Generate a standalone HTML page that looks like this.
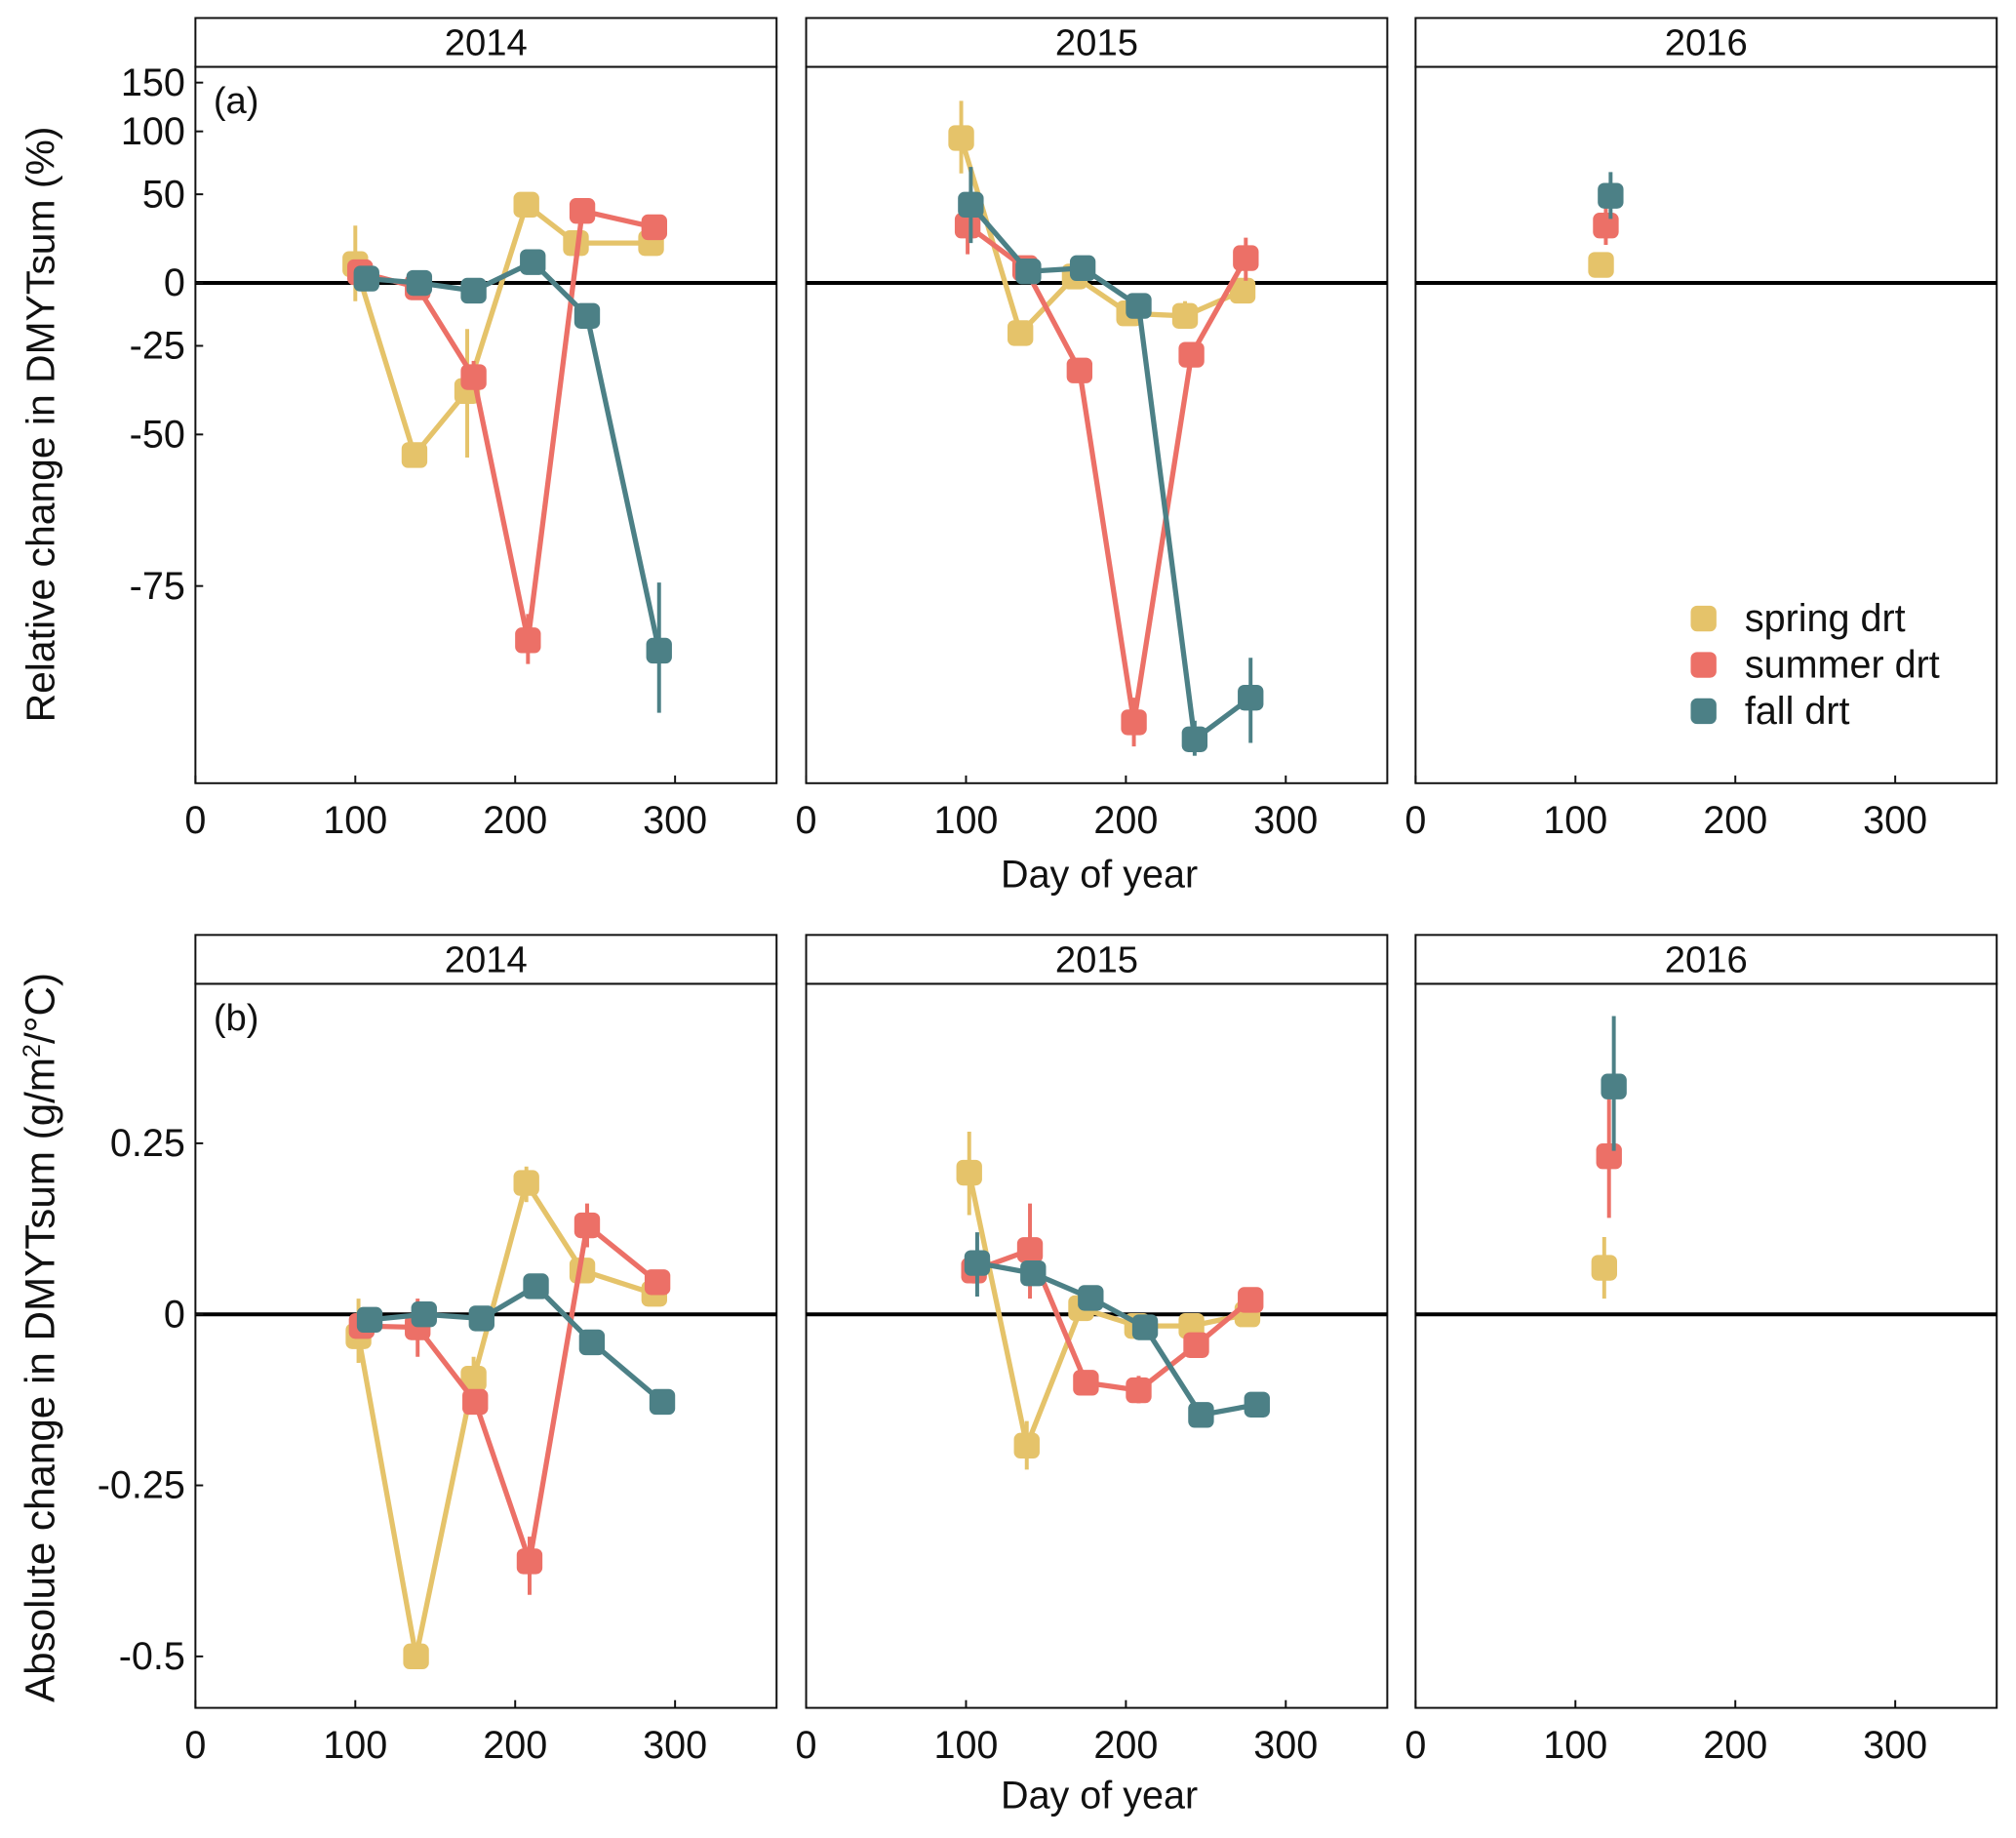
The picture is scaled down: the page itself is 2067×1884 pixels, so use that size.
<!DOCTYPE html>
<html><head><meta charset="utf-8"><style>
html,body{margin:0;padding:0;background:#fff}
svg{display:block}
text{font-family:"Liberation Sans",sans-serif;fill:#111}
</style></head><body>
<svg id="chart" width="2067" height="1884" viewBox="0 0 1568 1429.2" preserveAspectRatio="none" xmlns="http://www.w3.org/2000/svg"></svg>
<script>
// ---- data ----
const years = ["2014","2015","2016"];
const seriesNames = ["spring drt","summer drt","fall drt"];
const colors = ["#E5C36A","#EC7067","#4C8086"];
const xTicks = [0,100,200,300];
const relTicks = [150,100,50,0,-25,-50,-75];
const absTicks = [0.25,0,-0.25,-0.5];
const absTickLabels = ["0.25","0","-0.25","-0.5"];
// Relative (%) : [year][series]
const relDays = [
 [[100,137,170,207,238,285],[103,139,174,208,242,287],[107,140,174,211,245,290]],
 [[97,134,168,202,237,273],[101,137,171,205,241,275],[103,139,173,208,243,278]],
 [[116],[119],[122]]
];
const relVals = [
 [[9,-54.5,-39,43,20,20],[5,-2,-35,-80.5,39,29],[2,0,-3.5,10,-14,-81.4]],
 [[94,-20.5,3,-13,-14,-3.5],[30,7,-33,-86.6,-28,12],[43,5.4,7,-10,-87.6,-85]],
 [[8.6],[30],[49]]
];
const relLo = [
 [[-8,-56,-55,40,18,18],[2,-5,-38,-82.5,36,26],[0,-2,-5,8,-16,-86]],
 [[65,-23,1,-15,-17,-6],[14,4,-35,-88,-31,1],[20,3,5,-12,-88.5,-87.8]],
 [[6],[19],[34]]
];
const relHi = [
 [[30,-53,-19,46,22,22],[8,1,-30,-78,42,33],[4,2,-2,12,-12,-74.6]],
 [[130,-18,5,-11,-8,-1],[51,10,-31,-85,-24,23],[70,8,9,-8,-86.5,-82]],
 [[11],[42],[66]]
];
// Absolute (g/m2/°C)
const absDays = [
 [[102,138,174,207,242,287],[104,139,175,209,245,289],[109,143,179,213,248,292]],
 [[102,138,172,207,241,276],[105,140,175,208,244,278],[107,142,178,212,247,282]],
 [[118],[121],[124]]
];
const absVals = [
 [[-0.032,-0.5,-0.094,0.192,0.064,0.03],[-0.017,-0.019,-0.128,-0.361,0.13,0.047],[-0.008,0,-0.006,0.041,-0.041,-0.128]],
 [[0.207,-0.192,0.009,-0.017,-0.017,0],[0.064,0.094,-0.1,-0.111,-0.045,0.021],[0.075,0.06,0.024,-0.019,-0.147,-0.132]],
 [[0.068],[0.231],[0.333]]
];
const absLo = [
 [[-0.071,-0.51,-0.128,0.164,0.054,0.02],[-0.03,-0.062,-0.14,-0.41,0.098,0.037],[-0.018,-0.01,-0.016,0.031,-0.051,-0.138]],
 [[0.145,-0.227,-0.001,-0.027,-0.027,-0.01],[0.045,0.023,-0.11,-0.13,-0.055,0.011],[0.026,0.045,0.014,-0.029,-0.16,-0.142]],
 [[0.023],[0.141],[0.239]]
];
const absHi = [
 [[0.023,-0.49,-0.062,0.216,0.074,0.04],[-0.005,0.023,-0.115,-0.325,0.162,0.057],[0.002,0.01,0.004,0.051,-0.031,-0.118]],
 [[0.267,-0.156,0.019,-0.007,-0.007,0.01],[0.08,0.162,-0.09,-0.09,-0.035,0.031],[0.12,0.075,0.034,-0.009,-0.137,-0.122]],
 [[0.113],[0.327],[0.436]]
];

// ---- layout ----
const NS="http://www.w3.org/2000/svg";
const svg=document.getElementById('chart');
function mk(tag,attrs,parent){const e=document.createElementNS(NS,tag);for(const k in attrs)e.setAttribute(k,attrs[k]);(parent||svg).appendChild(e);return e;}
const panelX=[[152,604],[627,1079],[1101,1553]];
const rows=[
 {stripTop:14,top:52,bottom:609,y:v=>220-170*Math.log(1+v/100),days:relDays,vals:relVals,lo:relLo,hi:relHi,ticks:relTicks,labels:relTicks.map(String),tag:"(a)",xlabY:690,name:"relative"},
 {stripTop:727,top:765,bottom:1328,y:v=>1022-532*v,days:absDays,vals:absVals,lo:absLo,hi:absHi,ticks:absTicks,labels:absTickLabels,tag:"(b)",xlabY:1406,name:"absolute"}
];
rows.forEach((r,ri)=>{
 for(let p=0;p<3;p++){
  const [x0,x1]=panelX[p];
  const xs=d=>x0+d*1.2435;
  const g=mk('g',{});
  
  
  const strip=mk('rect',{x:x0,y:r.stripTop,width:x1-x0,height:r.top-r.stripTop,fill:'#fff',stroke:'#111','stroke-width':1.5},g);
  
  
  const st=mk('text',{x:(x0+x1)/2,y:r.top-9,'text-anchor':'middle','font-size':29},g);st.textContent=years[p];
  
  
  mk('rect',{x:x0,y:r.top,width:x1-x0,height:r.bottom-r.top,fill:'none',stroke:'#111','stroke-width':1.5},g);
  const z=mk('line',{x1:x0,x2:x1,y1:r.y(0),y2:r.y(0),stroke:'#000','stroke-width':3},g);
  
  
  xTicks.forEach(t=>{
   mk('line',{x1:xs(t),x2:xs(t),y1:r.bottom,y2:r.bottom-6,stroke:'#111','stroke-width':1.5},g);
   const tl=mk('text',{x:xs(t),y:r.bottom+39,'text-anchor':'middle','font-size':30},g);tl.textContent=t;
   
   
  });
  if(p===0){
   r.ticks.forEach((t,i)=>{
    mk('line',{x1:x0,x2:x0+6,y1:r.y(t),y2:r.y(t),stroke:'#111','stroke-width':1.5},g);
    const yl=mk('text',{x:x0-8,y:r.y(t)+10,'text-anchor':'end','font-size':30},g);yl.textContent=r.labels[i];
    
    
   });
   const tg=mk('text',{x:x0+14,y:r.top+36,'font-size':29},g);tg.textContent=r.tag;
   
   
  }
  for(let s=0;s<3;s++){
   const d=r.days[p][s],v=r.vals[p][s];
   if(d.length>1){
    const pl=mk('polyline',{points:d.map((dd,i)=>xs(dd)+','+r.y(v[i])).join(' '),fill:'none',stroke:colors[s],'stroke-width':4},g);
    
    
   }
   d.forEach((dd,i)=>{
    const eb=mk('line',{x1:xs(dd),x2:xs(dd),y1:r.y(r.lo[p][s][i]),y2:r.y(r.hi[p][s][i]),stroke:colors[s],'stroke-width':3},g);
    
    
    const m=mk('rect',{x:xs(dd)-10,y:r.y(v[i])-10,width:20,height:20,rx:5,fill:colors[s]},g);
    
    
   });
  }
 }
 const xl=mk('text',{x:855,y:r.xlabY,'text-anchor':'middle','font-size':30});xl.textContent="Day of year";
 
 
});
const yt1=mk('text',{transform:'translate(42,330) rotate(-90)','text-anchor':'middle','font-size':31});
yt1.textContent="Relative change in DMYTsum (%)";


const yt2=mk('text',{transform:'translate(42,1040) rotate(-90)','text-anchor':'middle','font-size':32});
yt2.innerHTML='Absolute change in DMYTsum (g/m<tspan dy="-11" font-size="19">2</tspan><tspan dy="11">/°C)</tspan>';


seriesNames.forEach((n,i)=>{
 const y=481+i*36;
 const lg=mk('g',{});
 
 
 mk('rect',{x:1315,y:y-10,width:20,height:20,rx:5,fill:colors[i]},lg);
 const t=mk('text',{x:1357,y:y+10,'font-size':30},lg);t.textContent=n;
});
</script>
</body></html>
